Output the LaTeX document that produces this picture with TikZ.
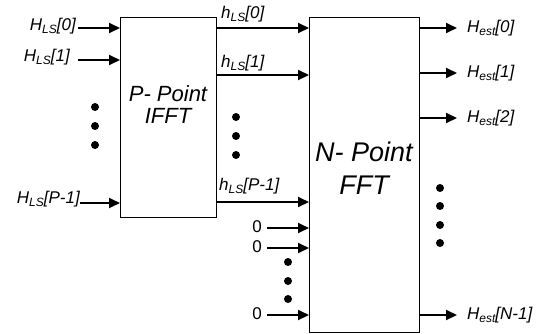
\documentclass[tikz,border=0pt]{standalone}
\usepackage{fontspec}
\setmainfont{Liberation Sans}
\usetikzlibrary{arrows.meta}
\newcommand{\lbsub}[1]{\raisebox{-0.35ex}{\fontsize{12}{12}\selectfont #1}}
\begin{document}
\begin{tikzpicture}[x=1pt,y=-1pt,
 box/.style={draw, line width=0.9pt, inner sep=0, minimum width=#1},
 arr/.style={line width=1.9pt, -{Triangle[length=11pt,width=10pt]}},
 lbl/.style={font=\fontsize{17}{20}\selectfont\itshape, inner sep=0},
 zlbl/.style={font=\fontsize{17}{20}\selectfont, inner sep=0},
 dot/.style={circle, fill, inner sep=0, minimum size=8pt}]
\useasboundingbox (0,0) rectangle (537,333);
% boxes
\node[box=96pt, minimum height=200pt] (ifft) at (168,117) {};
\node[box=110pt, minimum height=315pt] (fft) at (364,174.5) {};
\node[font=\fontsize{22}{22}\selectfont\itshape, align=center, inner sep=0] (ifftt) at (168,105) {P- Point\\IFFT};
\node[font=\fontsize{27}{33}\selectfont\itshape, align=center, inner sep=0] (fftt) at (364,168) {N- Point\\FFT};
% inputs of IFFT
\coordinate (i0) at (78,28); \coordinate (e0) at (120,28);
\coordinate (i1) at (78,60); \coordinate (e1) at (120,60);
\coordinate (ip) at (80,203); \coordinate (ep) at (120,203);
\node[lbl, anchor=east] (li0) at (76,26) {H\lbsub{LS}[0]};
\node[lbl, anchor=east] (li1) at (70,57) {H\lbsub{LS}[1]};
\node[lbl, anchor=east] (lip) at (80,199) {H\lbsub{LS}[P-1]};
\draw[arr] (i0) -- (e0);
\draw[arr] (i1) -- (e1);
\draw[arr] (ip) -- (ep);
\node[dot] (d1) at (95,107) {};
\node[dot] (d2) at (95,126) {};
\node[dot] (d3) at (95,145) {};
% between boxes
\coordinate (m0) at (216,28); \coordinate (n0) at (309,28);
\coordinate (m1) at (216,75); \coordinate (n1) at (309,75);
\coordinate (mp) at (216,202); \coordinate (np) at (309,202);
\draw[arr] (m0) -- (n0);
\draw[arr] (m1) -- (n1);
\draw[arr] (mp) -- (np);
\node[lbl, anchor=west] (lm0) at (221,14) {h\lbsub{LS}[0]};
\node[lbl, anchor=west] (lm1) at (221,63) {h\lbsub{LS}[1]};
\node[lbl, anchor=west] (lmp) at (219,186) {h\lbsub{LS}[P-1]};
\node[dot] (d4) at (236,117) {};
\node[dot] (d5) at (236,136) {};
\node[dot] (d6) at (236,155) {};
% zeros
\coordinate (z1) at (267,228); \coordinate (y1) at (309,228);
\coordinate (z2) at (267,248); \coordinate (y2) at (309,248);
\coordinate (z3) at (267,315); \coordinate (y3) at (309,315);
\draw[arr] (z1) -- (y1);
\draw[arr] (z2) -- (y2);
\draw[arr] (z3) -- (y3);
\node[zlbl, anchor=east] (lz1) at (262,227) {0};
\node[zlbl, anchor=east] (lz2) at (262,247) {0};
\node[zlbl, anchor=east] (lz3) at (262,314) {0};
\node[dot] (d7) at (288,262) {};
\node[dot] (d8) at (288,281) {};
\node[dot] (d9) at (288,299) {};
% outputs
\coordinate (o0) at (419,28); \coordinate (p0) at (457,28);
\coordinate (o1) at (419,73); \coordinate (p1) at (457,73);
\coordinate (o2) at (419,118); \coordinate (p2) at (457,118);
\coordinate (on) at (419,315); \coordinate (pn) at (457,315);
\draw[arr] (o0) -- (p0);
\draw[arr] (o1) -- (p1);
\draw[arr] (o2) -- (p2);
\draw[arr] (on) -- (pn);
\node[lbl, anchor=west] (lo0) at (467,28) {H\lbsub{est}[0]};
\node[lbl, anchor=west] (lo1) at (467,73) {H\lbsub{est}[1]};
\node[lbl, anchor=west] (lo2) at (467,118) {H\lbsub{est}[2]};
\node[lbl, anchor=west] (lon) at (467,315) {H\lbsub{est}[N-1]};
\node[dot] (d10) at (440,188) {};
\node[dot] (d11) at (440,206) {};
\node[dot] (d12) at (440,225) {};
\node[dot] (d13) at (440,243) {};
\end{tikzpicture}
\end{document}
